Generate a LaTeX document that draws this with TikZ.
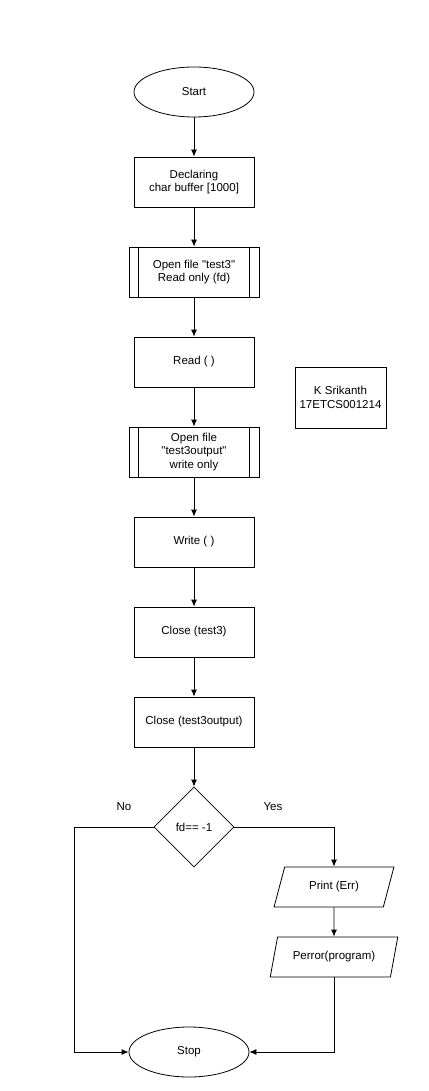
\documentclass[tikz,border=0pt]{standalone}
\usepackage{fontspec}
\setmainfont{Liberation Sans}
\usetikzlibrary{shapes.geometric,arrows.meta}
\begin{document}
\begin{tikzpicture}[x=1pt,y=-1pt,
  every node/.style={font=\fontsize{11.5}{13.5}\selectfont, align=center, inner sep=0pt},
  terminal/.style={draw, ellipse, minimum width=120, minimum height=50},
  procbox/.style={draw, rectangle, minimum width=120, minimum height=50},
  predef/.style={draw, rectangle, minimum width=130, minimum height=50},
  decision/.style={draw, diamond, minimum width=80, minimum height=80},
  iobox/.style={draw, trapezium, trapezium left angle=63.4, trapezium right angle=116.6,
    trapezium stretches=true, minimum height=40},
  flow/.style={-{Latex[length=7pt,width=6pt]}},
  line width=0.8pt]
\useasboundingbox (0,0) rectangle (428,1091);

% main column
\node[terminal] (start) at (194,92) {Start};
\node[procbox] (decl) at (194,182) {Declaring\\char buffer [1000]};
\node[predef] (open1) at (194,272) {Open file \textquotedbl test3\textquotedbl\\Read only (fd)};
\node[procbox] (read) at (194,362) {Read ( )};
\node[predef] (open2) at (194,452) {Open file\\\textquotedbl test3output\textquotedbl\\write only};
\node[procbox] (write) at (194,542) {Write ( )};
\node[procbox] (close1) at (194,632) {Close (test3)};
\node[procbox] (close2) at (194,722) {Close (test3output)};
\node[decision] (dec) at (194,827) {fd== -1};
\node[terminal] (stop) at (189,1052) {Stop};

% side note
\node[draw, rectangle, minimum width=91, minimum height=61] (author) at (340.5,397.5) {K Srikanth\\17ETCS001214};

% error branch
\node[iobox, minimum width=120] (print) at (334,887) {Print (Err)};
\node[iobox, minimum width=128] (perror) at (334,957) {Perror(program)};

% inner bars of the predefined-process boxes
\foreach \n in {open1,open2}{
  \draw ([xshift=10pt]\n.north west) -- ([xshift=10pt]\n.south west);
  \draw ([xshift=-10pt]\n.north east) -- ([xshift=-10pt]\n.south east);
}

% connectors
\draw[flow] (start) -- (decl);
\draw[flow] (decl) -- (open1);
\draw[flow] (open1) -- (read);
\draw[flow] (read) -- (open2);
\draw[flow] (open2) -- (write);
\draw[flow] (write) -- (close1);
\draw[flow] (close1) -- (close2);
\draw[flow] (close2) -- (dec);
\draw[flow] (dec.east) -| (print.north);
\draw[flow] (print) -- (perror);
\draw[flow] (dec.west) -- (74,827) |- (stop.west);
\draw[flow] (perror.south) |- (stop.east);

% branch labels
\node (no) at (124,807) {No};
\node (yes) at (273,807) {Yes};
\end{tikzpicture}
\end{document}
